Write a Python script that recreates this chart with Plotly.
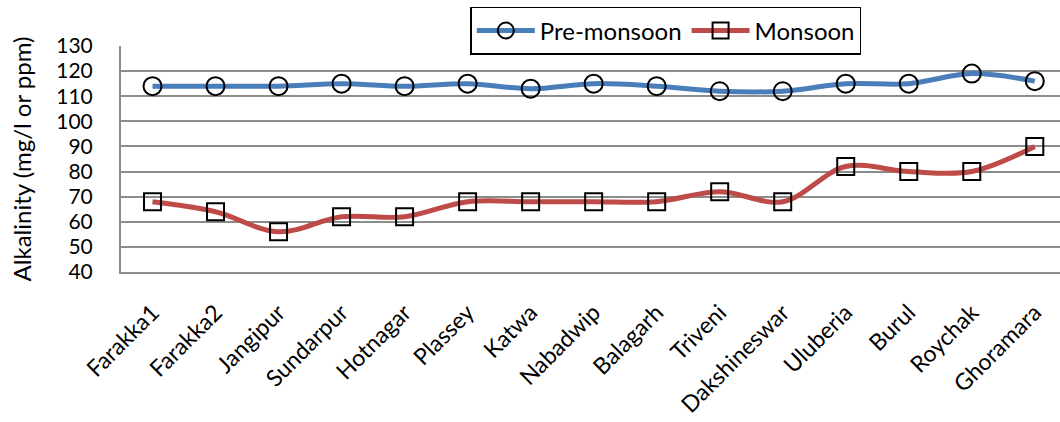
import plotly.graph_objects as go

# Sampling sites along the river
sites = ["Farakka1", "Farakka2", "Jangipur", "Sundarpur", "Hotnagar", "Plassey",
         "Katwa", "Nabadwip", "Balagarh", "Triveni", "Dakshineswar", "Uluberia",
         "Burul", "Roychak", "Ghoramara"]

# Alkalinity (mg/l) per season
pre_monsoon = [114, 114, 114, 115, 114, 115, 113, 115, 114, 112, 112, 115, 115, 119, 116]
monsoon = [68, 64, 56, 62, 62, 68, 68, 68, 68, 72, 68, 82, 80, 80, 90]

y_ticks = [40, 50, 60, 70, 80, 90, 100, 110, 120, 130]

FONT = "Lato, Open Sans, sans-serif"
FS = 24
GRID = "#8c8c8c"

fig = go.Figure()
fig.add_trace(go.Scatter(
    x=sites, y=pre_monsoon, name="Pre-monsoon", mode="lines+markers",
    line=dict(color="#4A7EBB", width=5, shape="spline"),
    marker=dict(symbol="circle-open", size=18, color="black", line=dict(width=2, color="black")),
))
fig.add_trace(go.Scatter(
    x=sites, y=monsoon, name="Monsoon", mode="lines+markers",
    line=dict(color="#BE4B48", width=5, shape="spline"),
    marker=dict(symbol="square-open", size=17, color="black", line=dict(width=2, color="black")),
))

fig.update_layout(
    width=1060, height=422,
    margin=dict(l=121, r=0, t=46, b=150, autoexpand=False),
    paper_bgcolor="white", plot_bgcolor="white",
    font=dict(family=FONT, size=FS, color="black"),
    legend=dict(
        orientation="h", x=0.372, y=1.173, xanchor="left", yanchor="top",
        bgcolor="white", bordercolor="black", borderwidth=1.5,
        font=dict(family=FONT, size=FS, color="black"),
        itemwidth=58,
    ),
    showlegend=True,
)
fig.update_xaxes(
    type="category", range=[-0.5, 14.4], automargin=False,
    tickangle=-45, showgrid=False, ticks="", ticklabelstandoff=16,
    showline=True, linecolor=GRID, linewidth=2,
    tickfont=dict(family=FONT, size=23, color="black"),
)
fig.update_yaxes(
    range=[40, 130], tickvals=y_ticks, ticks="", ticklabelstandoff=22,
    automargin=False,
    showgrid=True, gridcolor=GRID, gridwidth=2,
    showline=True, linecolor=GRID, linewidth=2, zeroline=False,
    tickfont=dict(family=FONT, size=21, color="black"),
    title=dict(text="Alkalinity (mg/l or ppm)", font=dict(family=FONT, size=FS, color="black"), standoff=18),
)

fig.write_html("out.html")
